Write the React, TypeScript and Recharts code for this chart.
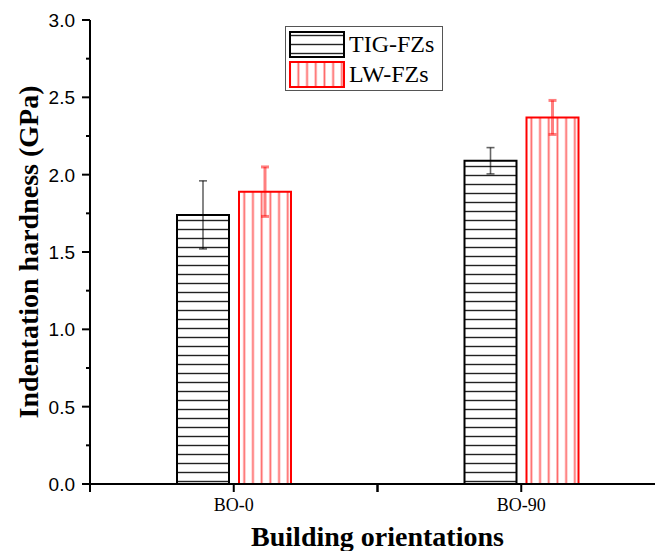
import React from 'react';
import { ComposedChart, Bar, XAxis, YAxis, ErrorBar, Legend } from 'recharts';

const categories = ['BO-0', 'BO-90'];
const tigValues = [1.74, 2.09];
const tigErrors = [0.22, 0.085];
const lwValues = [1.89, 2.37];
const lwErrors = [0.16, 0.11];
const yTicks = [0, 0.25, 0.5, 0.75, 1, 1.25, 1.5, 1.75, 2, 2.25, 2.5, 2.75, 3];
const yMajorTicks = [0, 0.5, 1, 1.5, 2, 2.5, 3];
const seriesOrder = ['tig', 'lw'];
const seriesNames = { tig: 'TIG-FZs', lw: 'LW-FZs' };

const data = categories.map((c, i) => ({
  name: c,
  tig: tigValues[i],
  tigErr: tigErrors[i],
  lw: lwValues[i],
  lwErr: lwErrors[i],
}));

const SERIF = '"Liberation Serif", "Times New Roman", serif';
const SANS = '"Liberation Sans", Arial, sans-serif';
const TICK_SIZE = 8;
const TICK_MARGIN = 4;

function YTick(props: any) {
  const { x, y, payload } = props;
  const ax = x + TICK_SIZE + TICK_MARGIN;
  const v = payload.value;
  const major = yMajorTicks.some((m) => Math.abs(m - v) < 1e-6);
  return (
    <g>
      <line x1={ax} x2={ax - (major ? 8 : 4)} y1={y} y2={y} stroke="#000" strokeWidth={2} />
      {major && (
        <text x={ax - 15} y={y} dy="0.36em" textAnchor="end" fontFamily={SANS} fontSize={19} fill="#000">
          {Number(v).toFixed(1)}
        </text>
      )}
    </g>
  );
}

function XTick(props: any) {
  const { x, y, payload, width, visibleTicksCount } = props;
  const ay = y - TICK_SIZE - TICK_MARGIN;
  const half = payload && payload.offset ? payload.offset : width && visibleTicksCount ? width / visibleTicksCount / 2 : 0;
  const xs = half ? [x - half, x, x + half] : [x];
  return (
    <g>
      {xs.map((xx, i) => (
        <line key={i} x1={xx} x2={xx} y1={ay} y2={ay + 8} stroke="#000" strokeWidth={2} />
      ))}
      <text x={x} y={ay + 27} textAnchor="middle" fontFamily={SERIF} fontSize={18} fill="#000">
        {payload.value}
      </text>
    </g>
  );
}

function PatternDefs({ prefix }: { prefix: string }) {
  return (
    <defs>
      <pattern id={`${prefix}H`} patternUnits="userSpaceOnUse" width={10} height={9}>
        <rect x={0} y={0} width={10} height={9} fill="#fff" />
        <line x1={0} x2={10} y1={4.5} y2={4.5} stroke="#222" strokeWidth={1.4} />
      </pattern>
      <pattern id={`${prefix}V`} patternUnits="userSpaceOnUse" width={8.7} height={10} x={5}>
        <rect x={0} y={0} width={8.7} height={10} fill="#fff" />
        <line x1={4.35} x2={4.35} y1={0} y2={10} stroke="#ff0000" strokeOpacity={0.6} strokeWidth={1.8} />
      </pattern>
    </defs>
  );
}

function LegendContent(props: any) {
  const payload = [...(props.payload || [])].sort(
    (a: any, b: any) => seriesOrder.indexOf(a.dataKey) - seriesOrder.indexOf(b.dataKey)
  );
  return (
    <div
      style={{
        border: '1.5px solid #555',
        background: '#fff',
        padding: '2px 8px 1px 3px',
        display: 'inline-block',
      }}
    >
      {payload.map((p: any, i: number) => {
        const key = p.dataKey;
        const isTig = key === 'tig';
        return (
          <div key={i} style={{ display: 'flex', alignItems: 'center', height: 30 }}>
            <svg width={56} height={27} style={{ display: 'block' }}>
              <PatternDefs prefix={`leg${i}`} />
              <rect
                x={1}
                y={1}
                width={54}
                height={25}
                fill={`url(#leg${i}${isTig ? 'H' : 'V'})`}
                stroke={isTig ? '#000' : '#ff0000'}
                strokeWidth={2}
              />
            </svg>
            <span style={{ fontFamily: SERIF, fontSize: 24, color: '#000', marginLeft: 4, lineHeight: '27px' }}>
              {p.value}
            </span>
          </div>
        );
      })}
    </div>
  );
}

export default function App() {
  return (
    <div style={{ position: 'absolute', left: 0, top: 0, width: 655, height: 551, overflow: 'hidden', background: '#fff' }}>
      <ComposedChart
        width={700}
        height={551}
        data={data}
        margin={{ top: 20, right: 35, bottom: 0, left: 0 }}
        barSize={52}
        barGap={10}
      >
        <PatternDefs prefix="chart" />
        <XAxis
          xAxisId="cat"
          dataKey="name"
          height={67}
          axisLine={{ stroke: '#000', strokeWidth: 2 }}
          tickLine={false}
          tickSize={TICK_SIZE}
          tickMargin={TICK_MARGIN}
          interval={0}
          tick={<XTick />}
          label={{
            content: (lp: any) => {
              const vb = lp.viewBox || { x: 90, y: 484, width: 575, height: 67 };
              return (
                <text
                  x={vb.x + vb.width / 2}
                  y={vb.y + 62}
                  textAnchor="middle"
                  fontFamily={SERIF}
                  fontWeight="bold"
                  fontSize={28}
                  fill="#000"
                >
                  Building orientations
                </text>
              );
            },
          }}
        />
        <XAxis
          xAxisId="top"
          dataKey="name"
          orientation="top"
          height={0}
          tick={false}
          tickLine={false}
          axisLine={{ stroke: '#000', strokeWidth: 2 }}
        />
        <YAxis
          width={90}
          domain={[0, 3]}
          ticks={yTicks}
          interval={0}
          allowDataOverflow
          axisLine={{ stroke: '#000', strokeWidth: 2 }}
          tickLine={false}
          tickSize={TICK_SIZE}
          tickMargin={TICK_MARGIN}
          tick={<YTick />}
          label={{
            content: (lp: any) => {
              const vb = lp.viewBox || { x: 0, y: 20, width: 90, height: 464 };
              const cx = vb.x + 28;
              const cy = vb.y + vb.height / 2;
              return (
                <text
                  x={cx}
                  y={cy}
                  transform={`rotate(-90 ${cx} ${cy})`}
                  textAnchor="middle"
                  dominantBaseline="central"
                  fontFamily={SERIF}
                  fontWeight="bold"
                  fontSize={28}
                  fill="#000"
                >
                  Indentation hardness (GPa)
                </text>
              );
            },
          }}
        />
        <Legend
          layout="horizontal"
          verticalAlign="middle"
          align="center"
          content={<LegendContent />}
          wrapperStyle={{ position: 'absolute', left: 285, top: 26, width: 'auto', height: 'auto' }}
        />
        <Bar
          xAxisId="cat"
          dataKey="tig"
          name={seriesNames.tig}
          fill="url(#chartH)"
          stroke="#000"
          strokeWidth={2}
          isAnimationActive={false}
        >
          <ErrorBar dataKey="tigErr" width={4} stroke="#000" strokeOpacity={0.6} strokeWidth={1.6} />
        </Bar>
        <Bar
          xAxisId="cat"
          dataKey="lw"
          name={seriesNames.lw}
          fill="url(#chartV)"
          stroke="#ff0000"
          strokeWidth={2}
          isAnimationActive={false}
        >
          <ErrorBar dataKey="lwErr" width={4} stroke="#ff0000" strokeOpacity={0.5} strokeWidth={3} />
        </Bar>
      </ComposedChart>
    </div>
  );
}
